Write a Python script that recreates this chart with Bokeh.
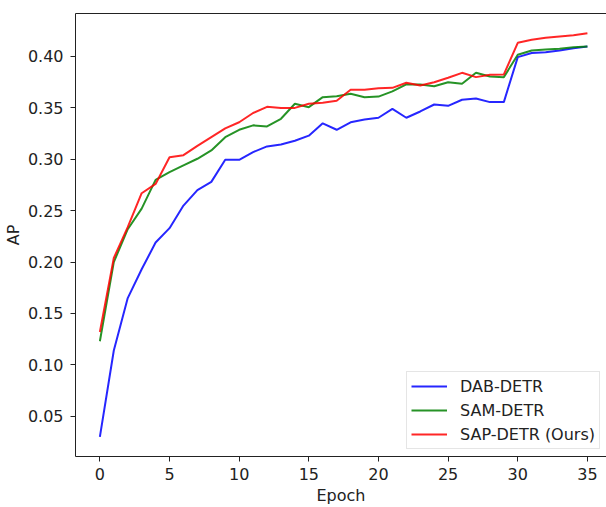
from bokeh.plotting import figure
from bokeh.models import Legend, LegendItem, LinearAxis, FixedTicker, Range1d
from bokeh.embed import file_html
from bokeh.resources import INLINE

epochs = list(range(36))
dab_detr = [0.030, 0.114, 0.165, 0.193, 0.219, 0.233, 0.255, 0.270, 0.278, 0.2995,
            0.2995, 0.307, 0.3125, 0.3144, 0.318, 0.323, 0.335, 0.3287, 0.336, 0.3387,
            0.3404, 0.349, 0.3404, 0.3465, 0.3533, 0.352, 0.3579, 0.3591, 0.3556, 0.3556,
            0.3994, 0.4033, 0.4042, 0.4058, 0.408, 0.4097]
sam_detr = [0.123, 0.200, 0.232, 0.252, 0.280, 0.2875, 0.294, 0.3005, 0.3086, 0.3215,
            0.3287, 0.333, 0.332, 0.3394, 0.354, 0.3507, 0.3604, 0.3614, 0.3637, 0.3604,
            0.361, 0.366, 0.3728, 0.3728, 0.3711, 0.375, 0.3734, 0.3841, 0.3805, 0.3799,
            0.4016, 0.4058, 0.4068, 0.4075, 0.409, 0.4097]
sap_detr = [0.132, 0.204, 0.234, 0.267, 0.276, 0.302, 0.304, 0.313, 0.3215, 0.330,
            0.336, 0.345, 0.351, 0.350, 0.350, 0.354, 0.355, 0.357, 0.3676, 0.3676,
            0.3692, 0.3695, 0.3744, 0.3718, 0.375, 0.3793, 0.3841, 0.3799, 0.3822, 0.3825,
            0.4133, 0.4162, 0.4182, 0.4195, 0.4207, 0.4227]
series_names = ["DAB-DETR", "SAM-DETR", "SAP-DETR (Ours)"]
x_ticks = [0, 5, 10, 15, 20, 25, 30, 35]
y_ticks = [0.05, 0.10, 0.15, 0.20, 0.25, 0.30, 0.35, 0.40]
y_tick_labels = ["0.05", "0.10", "0.15", "0.20", "0.25", "0.30", "0.35", "0.40"]
x_label = "Epoch"
y_label = "AP"

FONT = "DejaVu Sans"
INK = "#222222"

p = figure(width=606, height=507, output_backend="svg", toolbar_location=None,
           x_range=Range1d(-1.75, 36.37), y_range=Range1d(0.0109, 0.4418),
           min_border_left=75, min_border_right=0, min_border_top=13, min_border_bottom=51)
p.xgrid.visible = False
p.ygrid.visible = False
p.outline_line_color = None
p.background_fill_color = "white"
p.border_fill_color = "white"

colors = ["#0000ff", "#008000", "#ff0000"]
renderers = []
for ys, c in zip([dab_detr, sam_detr, sap_detr], colors):
    r = p.line(epochs, ys, line_color=c, line_width=2, line_alpha=0.85)
    renderers.append(r)

for ax in (p.xaxis[0], p.yaxis[0]):
    ax.major_tick_in = 0
    ax.major_tick_out = 5
    ax.minor_tick_in = 0
    ax.minor_tick_out = 0
    ax.axis_line_color = INK
    ax.major_tick_line_color = INK
    ax.major_label_text_font = FONT
    ax.major_label_text_font_size = "16px"
    ax.major_label_text_color = INK
    ax.axis_label_text_font = FONT
    ax.axis_label_text_font_size = "16px"
    ax.axis_label_text_font_style = "normal"
    ax.axis_label_text_color = INK

p.xaxis[0].ticker = FixedTicker(ticks=x_ticks)
p.xaxis[0].major_label_standoff = 6
p.xaxis[0].axis_label = x_label
p.xaxis[0].axis_label_standoff = 3

p.yaxis[0].ticker = FixedTicker(ticks=y_ticks)
p.yaxis[0].major_label_overrides = {t: s for t, s in zip(y_ticks, y_tick_labels)}
p.yaxis[0].major_label_standoff = 7
p.yaxis[0].axis_label = y_label
p.yaxis[0].axis_label_standoff = 2

top = LinearAxis(ticker=FixedTicker(ticks=[]), major_tick_out=0, major_tick_in=0,
                 minor_tick_out=0, minor_tick_in=0, major_label_text_font_size="0px",
                 major_label_standoff=0, axis_line_color=INK)
p.add_layout(top, "above")

legend = Legend(items=[LegendItem(label=n, renderers=[r]) for n, r in zip(series_names, renderers)],
                location=(331, 7), padding=4, spacing=4, glyph_width=36, glyph_height=20,
                label_height=20, label_standoff=13, margin=0,
                label_text_font=FONT, label_text_font_size="16px", label_text_color=INK,
                border_line_color="#cccccc", border_line_width=1,
                background_fill_color="white", background_fill_alpha=0.8)
p.add_layout(legend, "center")

open("out.html", "w").write(file_html(p, INLINE))
